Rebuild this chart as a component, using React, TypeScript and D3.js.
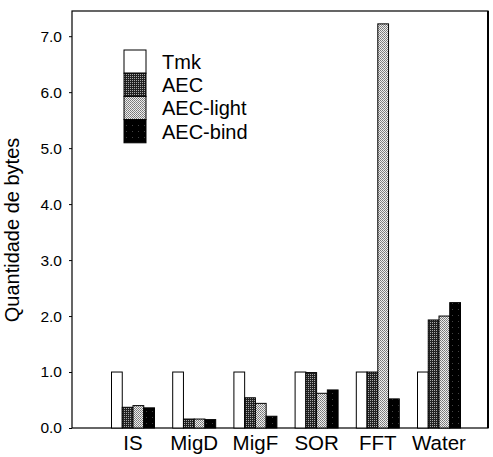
import React, { useRef, useEffect } from 'react';
import * as d3 from 'd3';

const categories = ['IS', 'MigD', 'MigF', 'SOR', 'FFT', 'Water'];
const seriesNames = ['Tmk', 'AEC', 'AEC-light', 'AEC-bind'];
const tmk = [1.0, 1.0, 1.0, 1.0, 1.0, 1.0];
const aec = [0.37, 0.16, 0.54, 0.99, 1.0, 1.93];
const aecLight = [0.4, 0.16, 0.44, 0.62, 7.22, 2.0];
const aecBind = [0.36, 0.15, 0.21, 0.68, 0.52, 2.24];
const yTicks = [0, 1, 2, 3, 4, 5, 6, 7];

const seriesValues = [tmk, aec, aecLight, aecBind];
const fills = ['#fff', 'url(#patAEC)', 'url(#patLight)', 'url(#patBind)'];

function App() {
    const ref = useRef<SVGSVGElement>(null);

    useEffect(() => {
        const width = 493;
        const height = 457;
        const left = 72, right = 488, top = 11, bottom = 428;
        const font = 'Liberation Sans, Arial, sans-serif';

        const svg = d3.select(ref.current);
        svg.selectAll('*').remove();

        const defs = svg.append('defs');
        const pA = defs.append('pattern').attr('id', 'patAEC')
            .attr('width', 2).attr('height', 2).attr('patternUnits', 'userSpaceOnUse');
        pA.append('rect').attr('width', 2).attr('height', 2).attr('fill', '#222');
        pA.append('rect').attr('width', 1).attr('height', 1).attr('fill', '#aaa');
        const pL = defs.append('pattern').attr('id', 'patLight')
            .attr('width', 2).attr('height', 2).attr('patternUnits', 'userSpaceOnUse');
        pL.append('rect').attr('width', 2).attr('height', 2).attr('fill', '#eee');
        pL.append('rect').attr('width', 1).attr('height', 1).attr('fill', '#777');
        pL.append('rect').attr('x', 1).attr('y', 1).attr('width', 1).attr('height', 1).attr('fill', '#888');
        const pB = defs.append('pattern').attr('id', 'patBind')
            .attr('width', 6).attr('height', 6).attr('patternUnits', 'userSpaceOnUse');
        pB.append('rect').attr('width', 6).attr('height', 6).attr('fill', '#000');
        pB.append('rect').attr('x', 2).attr('y', 3).attr('width', 1).attr('height', 1).attr('fill', '#444');

        const y = d3.scaleLinear().domain([0, 7.45]).range([bottom, top]);
        const x0 = d3.scalePoint<string>().domain(categories).range([133, 439]);
        const x1 = d3.scaleBand<string>().domain(seriesNames).range([-21.5, 21.5]);

        // frame
        svg.append('rect')
            .attr('x', left).attr('y', top)
            .attr('width', right - left).attr('height', bottom - top)
            .attr('fill', 'none').attr('stroke', '#000').attr('stroke-width', 1.2);
        svg.append('line')
            .attr('x1', right).attr('x2', right).attr('y1', top).attr('y2', bottom)
            .attr('stroke', '#000').attr('stroke-width', 2);

        // y axis
        const yAxis = svg.append('g')
            .attr('transform', `translate(${left},0)`)
            .call(d3.axisLeft(y).tickValues(yTicks).tickSize(3).tickFormat(d3.format('.1f')));
        yAxis.select('.domain').remove();
        yAxis.selectAll('text')
            .attr('font-family', font).attr('font-size', 15.5).attr('fill', '#000')
            .attr('x', -10);

        // bars
        seriesValues.forEach((vals, si) => {
            svg.append('g').selectAll('rect')
                .data(vals)
                .enter().append('rect')
                .attr('x', (d, i) => (x0(categories[i]) as number) + (x1(seriesNames[si]) as number))
                .attr('y', d => y(d))
                .attr('width', x1.bandwidth())
                .attr('height', d => bottom - y(d))
                .attr('fill', fills[si])
                .attr('stroke', '#000')
                .attr('stroke-width', 1);
        });

        // category labels
        svg.append('g').selectAll('text')
            .data(categories)
            .enter().append('text')
            .attr('x', d => x0(d) as number)
            .attr('y', 450)
            .attr('text-anchor', 'middle')
            .attr('font-family', font)
            .attr('font-size', 20.5)
            .text(d => d);

        // y label
        svg.append('text')
            .attr('transform', 'translate(19,230) rotate(-90)')
            .attr('text-anchor', 'middle')
            .attr('font-family', font)
            .attr('font-size', 20)
            .text('Quantidade de bytes');

        // legend
        const legend = svg.append('g').attr('transform', 'translate(124,50)');
        seriesNames.forEach((name, i) => {
            legend.append('rect')
                .attr('x', 0).attr('y', i * 23.2)
                .attr('width', 22).attr('height', 23.2)
                .attr('fill', fills[i]).attr('stroke', '#000').attr('stroke-width', 1);
            legend.append('text')
                .attr('x', 38).attr('y', i * 23.2 + 19)
                .attr('font-family', font).attr('font-size', 20)
                .text(name);
        });

        svg.attr('width', width).attr('height', height);
    }, []);

    return (
        <svg ref={ref} width="493" height="457"
            style={{ position: 'absolute', left: 0, top: 0, background: '#fff' }} />
    );
}

export default App;
